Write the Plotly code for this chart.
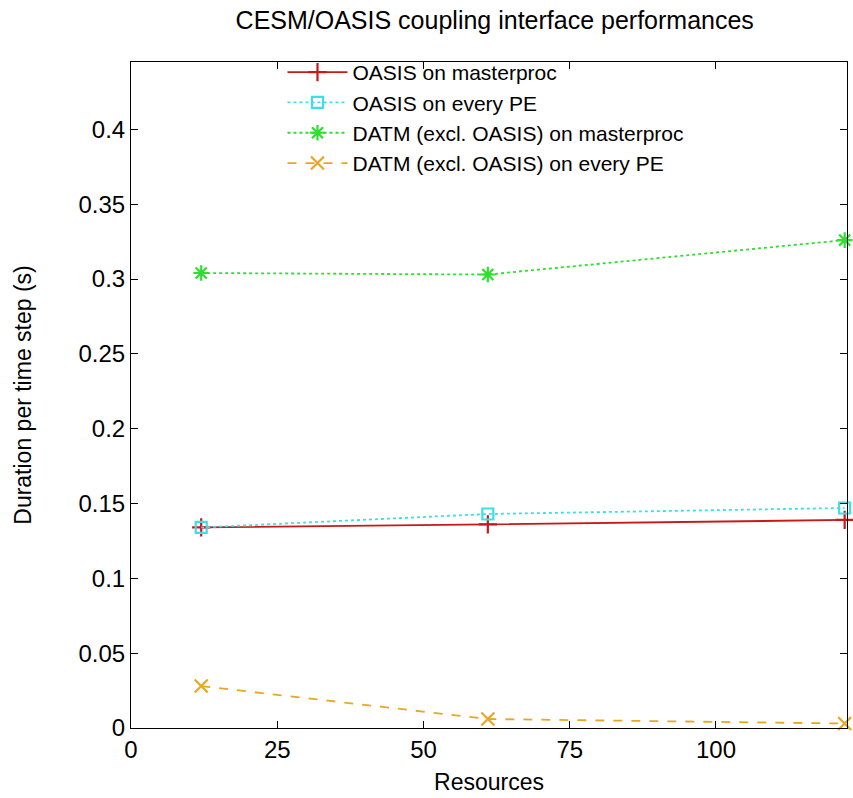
import plotly.graph_objects as go

resources = [12, 61, 122]
oasis_master = [0.134, 0.136, 0.139]
oasis_every = [0.134, 0.143, 0.147]
datm_master = [0.304, 0.303, 0.326]
datm_every = [0.028, 0.006, 0.003]

names = ["OASIS on masterproc", "OASIS on every PE",
         "DATM (excl. OASIS) on masterproc", "DATM (excl. OASIS) on every PE"]
series = [oasis_master, oasis_every, datm_master, datm_every]
colors = ["#c81818", "#3fdde8", "#2ee02e", "#eaa622"]
dashes = ["solid", "dot", "dot", "dash"]
symbols = ["cross-thin-open", "square-open", "asterisk-open", "x-thin-open"]
sizes = [13, 11, 13, 13]

fig = go.Figure()
for n, s, c, d, sym, sz in zip(names, series, colors, dashes, symbols, sizes):
    fig.add_trace(go.Scatter(
        x=resources, y=s, name=n, mode="lines+markers",
        line=dict(color=c, width=1.8, dash=d),
        marker=dict(symbol=sym, size=sz, color=c, line=dict(color=c, width=2.2)),
        cliponaxis=False,
    ))

fig.update_layout(
    width=853, height=798,
    paper_bgcolor="white", plot_bgcolor="white",
    font=dict(family="Liberation Sans, Arial, sans-serif", size=22, color="black"),
    title=dict(text="CESM/OASIS coupling interface performances", x=0.58, xanchor="center",
               y=0.974, yanchor="middle", font=dict(size=25)),
    margin=dict(l=131, r=6, t=62, b=70),
    showlegend=True,
    legend=dict(x=0.78, y=1.015, xanchor="right", yanchor="top",
                bgcolor="rgba(0,0,0,0)", font=dict(size=21), tracegroupgap=0,
                itemwidth=60),
)
fig.update_xaxes(
    range=[0, 122.4], tickvals=[0, 25, 50, 75, 100], showgrid=False, zeroline=False,
    showline=True, linecolor="black", linewidth=1, mirror="ticks",
    ticks="inside", ticklen=7, tickcolor="black",
    title=dict(text="Resources", standoff=12, font=dict(size=23)), tickfont=dict(size=24),
)
fig.update_yaxes(
    range=[0, 0.445], tickvals=[0, 0.05, 0.1, 0.15, 0.2, 0.25, 0.3, 0.35, 0.4],
    ticktext=["0", "0.05", "0.1", "0.15", "0.2", "0.25", "0.3", "0.35", "0.4"],
    showgrid=False, zeroline=False,
    showline=True, linecolor="black", linewidth=1, mirror="ticks",
    ticks="inside", ticklen=7, tickcolor="black",
    title=dict(text="Duration per time step (s)", standoff=40, font=dict(size=23)),
    tickfont=dict(size=24),
)
fig.write_html("out.html", config={"displayModeBar": False},
               post_script="document.body.style.margin='0';")
